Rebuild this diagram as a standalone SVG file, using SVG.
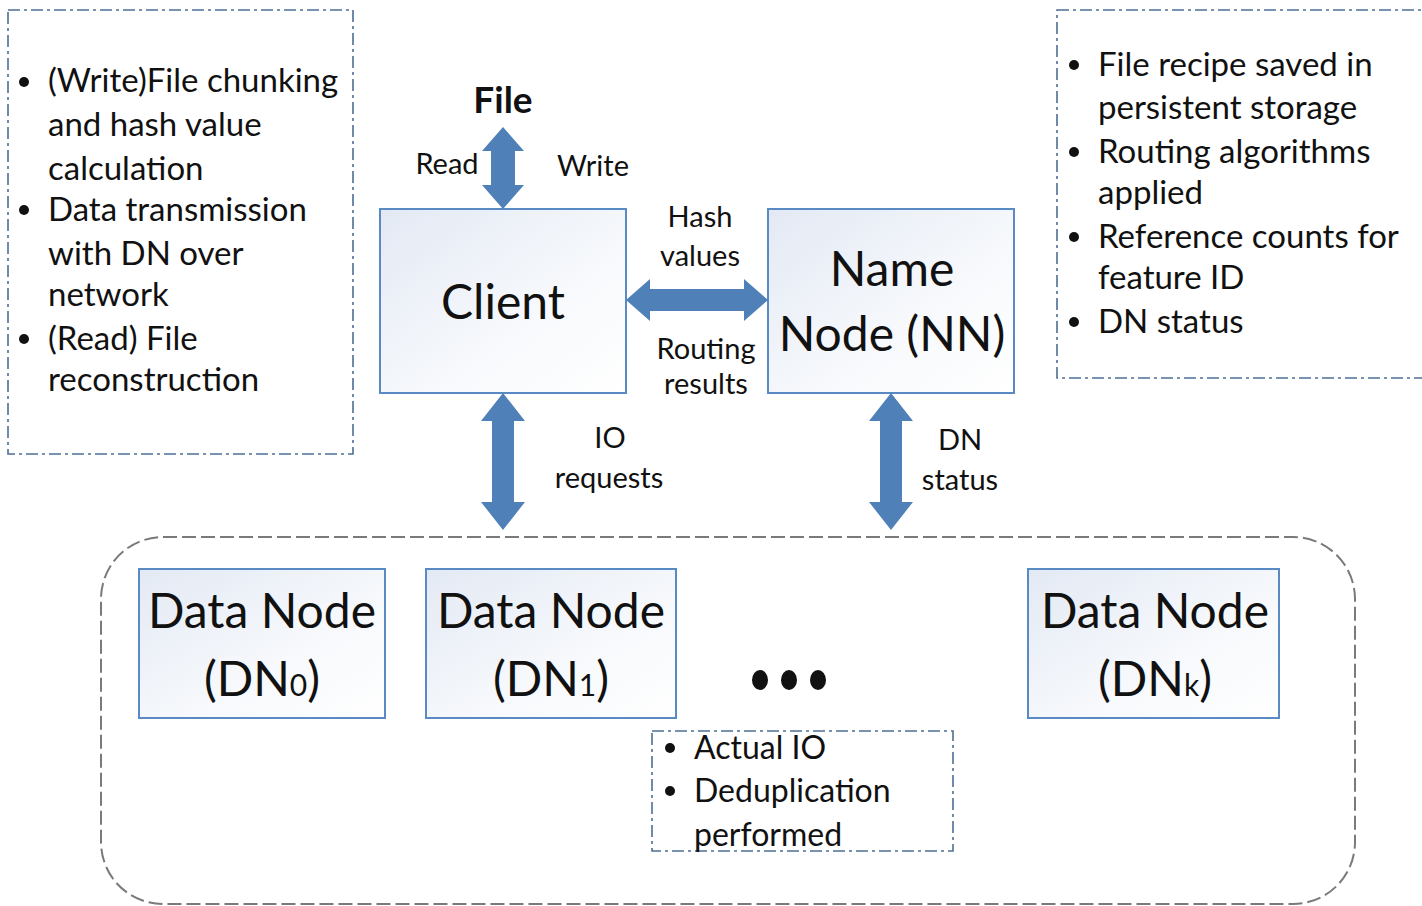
<svg xmlns="http://www.w3.org/2000/svg" width="1422" height="906" viewBox="0 0 1422 906">
  <defs>
    <linearGradient id="boxFill" x1="0" y1="0" x2="1" y2="1">
      <stop offset="0" stop-color="#e3e9f4"/>
      <stop offset="0.6" stop-color="#f7f9fc"/>
      <stop offset="1" stop-color="#ffffff"/>
    </linearGradient>
  </defs>
  <style>
    text { font-family: Lato, "Liberation Sans", sans-serif; fill: #111; }
    .node { fill: url(#boxFill); stroke: #5a8ac3; stroke-width: 2; }
    .note { fill: none; stroke: #4d6f95; stroke-width: 1.6; stroke-dasharray: 12 4 3 4; }
    .group { fill: none; stroke: #7a7a7a; stroke-width: 2; stroke-dasharray: 14 5; }
    .arrow { fill: #4f81b8; }
    .big { font-size: 48px; text-anchor: middle; }
    .lbl { font-size: 29px; text-anchor: middle; }
    .bul { font-size: 33px; }
    .bul-s { font-size: 32px; }
    .sub { font-size: 30px; }
  </style>

  <!-- notes -->
  <g id="client-notes">
    <rect class="note" x="8" y="10" width="345" height="444"/>
    <circle cx="24" cy="82" r="5" fill="#111"/>
    <circle cx="24" cy="210" r="5" fill="#111"/>
    <circle cx="24" cy="339" r="5" fill="#111"/>
    <text class="bul" x="48" y="92">(Write)File chunking</text>
    <text class="bul" x="48" y="136">and hash value</text>
    <text class="bul" x="48" y="180">calculation</text>
    <text class="bul" x="48" y="221">Data transmission</text>
    <text class="bul" x="48" y="265">with DN over</text>
    <text class="bul" x="48" y="306">network</text>
    <text class="bul" x="48" y="350">(Read) File</text>
    <text class="bul" x="48" y="391">reconstruction</text>
  </g>

  <g id="namenode-notes">
    <rect class="note" x="1057" y="10" width="380" height="368"/>
    <circle cx="1074" cy="65" r="5" fill="#111"/>
    <circle cx="1074" cy="152" r="5" fill="#111"/>
    <circle cx="1074" cy="237" r="5" fill="#111"/>
    <circle cx="1074" cy="322" r="5" fill="#111"/>
    <text class="bul" x="1098" y="76">File recipe saved in</text>
    <text class="bul" x="1098" y="119">persistent storage</text>
    <text class="bul" x="1098" y="163">Routing algorithms</text>
    <text class="bul" x="1098" y="204">applied</text>
    <text class="bul" x="1098" y="248">Reference counts for</text>
    <text class="bul" x="1098" y="289">feature ID</text>
    <text class="bul" x="1098" y="333">DN status</text>
  </g>

  <!-- data node cluster -->
  <g id="datanode-cluster">
    <rect class="group" x="101" y="537" width="1254" height="367" rx="62"/>
  </g>

  <g id="file">
    <text x="503" y="113" font-size="37" font-weight="bold" text-anchor="middle">File</text>
  </g>

  <g id="client">
    <rect class="node" x="380" y="209" width="246" height="184"/>
    <text class="big" x="503" y="319">Client</text>
  </g>

  <g id="name-node">
    <rect class="node" x="768" y="209" width="246" height="184"/>
    <text class="big" x="892" y="286">Name</text>
    <text class="big" x="892" y="351">Node (NN)</text>
  </g>

  <g id="dn0">
    <rect class="node" x="139" y="569" width="246" height="149"/>
    <text class="big" x="262" y="628">Data Node</text>
    <text class="big" x="262" y="696">(DN<tspan class="sub">0</tspan>)</text>
  </g>

  <g id="dn1">
    <rect class="node" x="426" y="569" width="250" height="149"/>
    <text class="big" x="551" y="628">Data Node</text>
    <text class="big" x="551" y="696">(DN<tspan class="sub">1</tspan>)</text>
  </g>

  <g id="ellipsis">
    <ellipse cx="760" cy="680" rx="8" ry="10" fill="#111"/>
    <ellipse cx="789" cy="680" rx="8" ry="10" fill="#111"/>
    <ellipse cx="818" cy="680" rx="8" ry="10" fill="#111"/>
  </g>

  <g id="dnk">
    <rect class="node" x="1028" y="569" width="251" height="149"/>
    <text class="big" x="1155" y="628">Data Node</text>
    <text class="big" x="1155" y="696">(DN<tspan class="sub">k</tspan>)</text>
  </g>

  <g id="datanode-notes">
    <rect class="note" x="652" y="731" width="301" height="120"/>
    <circle cx="670" cy="748" r="5" fill="#111"/>
    <circle cx="670" cy="791" r="5" fill="#111"/>
    <text class="bul-s" x="694" y="759">Actual IO</text>
    <text class="bul-s" x="694" y="802">Deduplication</text>
    <text class="bul-s" x="694" y="846">performed</text>
  </g>

  <!-- connectors -->
  <g id="connectors">
    <polygon class="arrow" points="503,127 524,151 515,151 515,185 524,185 503,209 482,185 491,185 491,151 482,151"/>
    <polygon class="arrow" points="626,300 650,279 650,289 744,289 744,279 768,300 744,321 744,311 650,311 650,321"/>
    <polygon class="arrow" points="503,393 525,421 514,421 514,502 525,502 503,530 481,502 492,502 492,421 481,421"/>
    <polygon class="arrow" points="891,393 913,421 902,421 902,502 913,502 891,530 869,502 880,502 880,421 869,421"/>
    <text class="lbl" x="447" y="174">Read</text>
    <text class="lbl" x="593" y="176">Write</text>
    <text class="lbl" x="700" y="227">Hash</text>
    <text class="lbl" x="700" y="266">values</text>
    <text class="lbl" x="706" y="359">Routing</text>
    <text class="lbl" x="706" y="394">results</text>
    <text class="lbl" x="610" y="448">IO</text>
    <text class="lbl" x="609" y="488">requests</text>
    <text class="lbl" x="960" y="450">DN</text>
    <text class="lbl" x="960" y="490">status</text>
  </g>
</svg>
